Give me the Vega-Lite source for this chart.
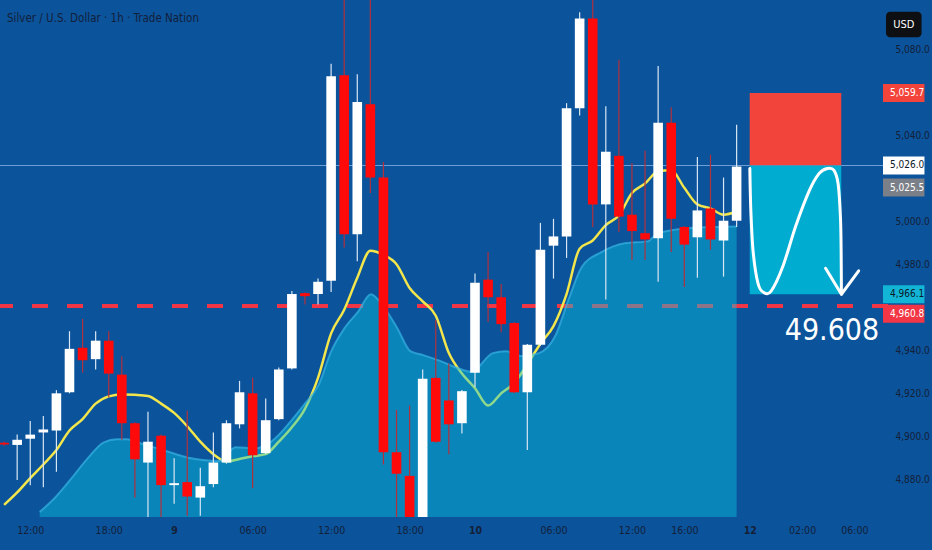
{
  "$schema": "https://vega.github.io/schema/vega-lite/v6.json",
  "width": 888,
  "height": 517,
  "autosize": {"type": "none"},
  "padding": {"left": 0, "top": 0, "right": 44, "bottom": 33},
  "background": "#0b539b",
  "config": {
    "view": {"stroke": null, "fill": "#0b539b"},
    "font": "DejaVu Sans Condensed, sans-serif",
    "axis": {"grid": false, "ticks": false, "domain": false, "labelColor": "#142038", "labelFontSize": 10}
  },
  "title": {
    "text": "Silver / U.S. Dollar · 1h · Trade Nation",
    "anchor": "start",
    "frame": "group",
    "offset": -24,
    "dx": 7,
    "fontSize": 11.5,
    "fontWeight": 500,
    "color": "#13203a"
  },
  "datasets": {
    "candles": [
      {"i": 0, "o": 4897.0, "h": 4897.6, "l": 4895.5, "c": 4896.2, "ma": 4868.1},
      {"i": 1, "o": 4896.0, "h": 4900.8, "l": 4879.7, "c": 4898.4, "ma": 4873.9},
      {"i": 2, "o": 4898.9, "h": 4907.1, "l": 4877.3, "c": 4900.8, "ma": 4880.6},
      {"i": 3, "o": 4901.8, "h": 4909.5, "l": 4876.3, "c": 4903.2, "ma": 4886.9},
      {"i": 4, "o": 4902.7, "h": 4921.5, "l": 4883.5, "c": 4920.0, "ma": 4893.6},
      {"i": 5, "o": 4920.5, "h": 4948.9, "l": 4920.0, "c": 4940.7, "ma": 4902.7},
      {"i": 6, "o": 4941.2, "h": 4954.6, "l": 4929.6, "c": 4935.4, "ma": 4908.0},
      {"i": 7, "o": 4935.9, "h": 4948.9, "l": 4931.1, "c": 4944.5, "ma": 4915.2},
      {"i": 8, "o": 4944.5, "h": 4948.9, "l": 4918.1, "c": 4929.2, "ma": 4918.6},
      {"i": 9, "o": 4928.7, "h": 4937.3, "l": 4898.4, "c": 4906.1, "ma": 4919.5},
      {"i": 10, "o": 4906.1, "h": 4906.6, "l": 4871.5, "c": 4889.3, "ma": 4919.3},
      {"i": 11, "o": 4887.8, "h": 4911.4, "l": 4862.0, "c": 4897.5, "ma": 4918.8},
      {"i": 12, "o": 4900.3, "h": 4900.8, "l": 4862.0, "c": 4877.3, "ma": 4915.2},
      {"i": 13, "o": 4877.3, "h": 4889.8, "l": 4868.6, "c": 4878.2, "ma": 4910.9},
      {"i": 14, "o": 4878.7, "h": 4911.9, "l": 4863.0, "c": 4872.0, "ma": 4904.7},
      {"i": 15, "o": 4871.5, "h": 4885.4, "l": 4863.0, "c": 4876.8, "ma": 4897.5},
      {"i": 16, "o": 4877.8, "h": 4901.8, "l": 4876.3, "c": 4887.8, "ma": 4891.7},
      {"i": 17, "o": 4887.8, "h": 4907.5, "l": 4887.3, "c": 4906.1, "ma": 4888.3},
      {"i": 18, "o": 4905.6, "h": 4925.8, "l": 4903.7, "c": 4920.5, "ma": 4889.5},
      {"i": 19, "o": 4920.0, "h": 4927.2, "l": 4875.8, "c": 4891.2, "ma": 4890.7},
      {"i": 20, "o": 4892.2, "h": 4917.6, "l": 4891.7, "c": 4907.5, "ma": 4891.7},
      {"i": 21, "o": 4908.0, "h": 4932.0, "l": 4907.5, "c": 4931.1, "ma": 4897.5},
      {"i": 22, "o": 4931.6, "h": 4967.6, "l": 4931.1, "c": 4966.2, "ma": 4904.2},
      {"i": 23, "o": 4966.6, "h": 4966.9, "l": 4961.3, "c": 4965.2, "ma": 4912.8},
      {"i": 24, "o": 4966.2, "h": 4973.4, "l": 4961.3, "c": 4971.9, "ma": 4927.2},
      {"i": 25, "o": 4972.4, "h": 5073.3, "l": 4967.1, "c": 5067.5, "ma": 4947.9},
      {"i": 26, "o": 5068.0, "h": 5110.0, "l": 4987.8, "c": 4994.0, "ma": 4958.9},
      {"i": 27, "o": 4994.0, "h": 5068.5, "l": 4981.5, "c": 5055.5, "ma": 4973.8},
      {"i": 28, "o": 5054.5, "h": 5110.0, "l": 5013.2, "c": 5020.4, "ma": 4986.3},
      {"i": 29, "o": 5020.4, "h": 5027.6, "l": 4886.9, "c": 4892.6, "ma": 4984.4},
      {"i": 30, "o": 4892.6, "h": 4912.3, "l": 4860.0, "c": 4882.6, "ma": 4980.1},
      {"i": 31, "o": 4881.6, "h": 4914.3, "l": 4850.0, "c": 4858.0, "ma": 4969.0},
      {"i": 32, "o": 4858.0, "h": 4931.1, "l": 4850.0, "c": 4926.8, "ma": 4962.8},
      {"i": 33, "o": 4927.2, "h": 4954.1, "l": 4897.0, "c": 4897.5, "ma": 4956.1},
      {"i": 34, "o": 4916.7, "h": 4933.9, "l": 4891.7, "c": 4905.6, "ma": 4938.8},
      {"i": 35, "o": 4906.1, "h": 4921.5, "l": 4901.3, "c": 4921.0, "ma": 4929.2},
      {"i": 36, "o": 4929.6, "h": 4975.8, "l": 4922.9, "c": 4971.4, "ma": 4922.4},
      {"i": 37, "o": 4972.9, "h": 4985.8, "l": 4953.2, "c": 4964.7, "ma": 4914.3},
      {"i": 38, "o": 4964.7, "h": 4970.9, "l": 4948.4, "c": 4952.2, "ma": 4920.0},
      {"i": 39, "o": 4952.7, "h": 4953.2, "l": 4920.0, "c": 4920.5, "ma": 4924.8},
      {"i": 40, "o": 4920.5, "h": 4943.0, "l": 4893.6, "c": 4942.6, "ma": 4933.5},
      {"i": 41, "o": 4942.6, "h": 4999.3, "l": 4942.1, "c": 4986.8, "ma": 4943.1},
      {"i": 42, "o": 4988.7, "h": 5001.2, "l": 4973.4, "c": 4993.0, "ma": 4951.3},
      {"i": 43, "o": 4993.0, "h": 5055.0, "l": 4983.0, "c": 5052.6, "ma": 4966.2},
      {"i": 44, "o": 5052.6, "h": 5097.3, "l": 5049.3, "c": 5094.4, "ma": 4987.3},
      {"i": 45, "o": 5094.4, "h": 5110.0, "l": 4997.4, "c": 5007.9, "ma": 4991.1},
      {"i": 46, "o": 5007.9, "h": 5053.6, "l": 4963.7, "c": 5032.4, "ma": 4998.3},
      {"i": 47, "o": 5030.5, "h": 5075.2, "l": 4995.0, "c": 5002.2, "ma": 5002.7},
      {"i": 48, "o": 5003.1, "h": 5027.2, "l": 4982.0, "c": 4995.5, "ma": 5013.2},
      {"i": 49, "o": 4994.5, "h": 5032.9, "l": 4982.0, "c": 4991.6, "ma": 5017.6},
      {"i": 50, "o": 4992.1, "h": 5072.3, "l": 4971.9, "c": 5045.9, "ma": 5023.3},
      {"i": 51, "o": 5045.9, "h": 5053.1, "l": 4985.8, "c": 5001.2, "ma": 5023.8},
      {"i": 52, "o": 4997.4, "h": 4997.9, "l": 4969.5, "c": 4989.2, "ma": 5015.6},
      {"i": 53, "o": 4992.6, "h": 5030.0, "l": 4973.8, "c": 5005.1, "ma": 5007.9},
      {"i": 54, "o": 5006.0, "h": 5031.0, "l": 4986.8, "c": 4991.6, "ma": 5006.0},
      {"i": 55, "o": 4991.1, "h": 5020.4, "l": 4974.3, "c": 5000.3, "ma": 5003.1},
      {"i": 56, "o": 5000.3, "h": 5044.9, "l": 4997.4, "c": 5025.5, "ma": 5004.6}
    ],
    "area": [
      {"t": 2.72, "v": 4864.8}, {"t": 3.85, "v": 4871.2}, {"t": 5.13, "v": 4880.3},
      {"t": 6.34, "v": 4889.4}, {"t": 7.63, "v": 4897.2}, {"t": 8.61, "v": 4898.6},
      {"t": 9.37, "v": 4898.6}, {"t": 10.65, "v": 4896.3}, {"t": 11.94, "v": 4894.0},
      {"t": 13.15, "v": 4891.7}, {"t": 14.2, "v": 4889.9}, {"t": 15.19, "v": 4889.0},
      {"t": 16.47, "v": 4888.5}, {"t": 17.7, "v": 4894.9}, {"t": 19.19, "v": 4894.4},
      {"t": 20.25, "v": 4896.7}, {"t": 21.01, "v": 4900.8}, {"t": 22.0, "v": 4907.7},
      {"t": 22.97, "v": 4915.0}, {"t": 24.03, "v": 4923.7}, {"t": 25.01, "v": 4939.6},
      {"t": 26.0, "v": 4950.1}, {"t": 27.05, "v": 4957.9}, {"t": 28.04, "v": 4966.1},
      {"t": 29.02, "v": 4960.2}, {"t": 30.08, "v": 4950.1}, {"t": 31.06, "v": 4939.6},
      {"t": 32.04, "v": 4937.8}, {"t": 33.33, "v": 4935.1}, {"t": 34.61, "v": 4931.9},
      {"t": 35.72, "v": 4930.0}, {"t": 37.36, "v": 4938.7}, {"t": 38.37, "v": 4939.6},
      {"t": 39.62, "v": 4937.3}, {"t": 40.89, "v": 4938.7}, {"t": 42.15, "v": 4946.9},
      {"t": 43.16, "v": 4963.8}, {"t": 44.16, "v": 4978.8}, {"t": 45.67, "v": 4985.7},
      {"t": 47.44, "v": 4989.8}, {"t": 49.2, "v": 4990.7}, {"t": 49.95, "v": 4994.4},
      {"t": 52.98, "v": 4997.1}, {"t": 56.0, "v": 4997.6}
    ],
    "zones": [
      {"zone": "stop", "t0": 57.0, "t1": 64.0, "top": 5059.7, "bottom": 5026.0},
      {"zone": "target", "t0": 57.0, "t1": 64.0, "top": 5026.0, "bottom": 4966.1}
    ],
    "sketch": [
      {"k": 1, "t": 57.01, "v": 5024.6}, {"k": 2, "t": 57.09, "v": 5004.6},
      {"k": 3, "t": 57.27, "v": 4985.4}, {"k": 4, "t": 57.64, "v": 4971.0},
      {"k": 5, "t": 58.07, "v": 4966.9}, {"k": 6, "t": 58.65, "v": 4967.7},
      {"k": 7, "t": 59.53, "v": 4979.0}, {"k": 8, "t": 60.54, "v": 4998.2},
      {"k": 9, "t": 61.55, "v": 5014.2}, {"k": 10, "t": 62.3, "v": 5022.2},
      {"k": 11, "t": 62.93, "v": 5024.6}, {"k": 12, "t": 63.43, "v": 5023.8},
      {"k": 13, "t": 63.76, "v": 5017.4}, {"k": 14, "t": 63.94, "v": 5001.4},
      {"k": 15, "t": 63.99, "v": 4985.4}, {"k": 16, "t": 64.01, "v": 4966.1}
    ],
    "arrow": [
      {"k": 1, "t": 62.8, "v": 4978.2},
      {"k": 2, "t": 64.01, "v": 4966.1},
      {"k": 3, "t": 65.33, "v": 4977.0}
    ],
    "tags": [
      {"kind": "stop", "v": 5059.7},
      {"kind": "entry", "v": 5026.0},
      {"kind": "last", "v": 5025.5},
      {"kind": "target", "v": 4966.1},
      {"kind": "line", "v": 4960.8}
    ]
  },
  "layer": [
    {
      "data": {"name": "candles"},
      "mark": {"type": "rule", "color": "#6e9fd4", "strokeWidth": 1, "opacity": 0.75},
      "encoding": {
        "y": {"datum": 5026.0, "type": "quantitative", "title": null,
              "scale": {"domain": [4864.8, 5100.66], "nice": false, "zero": false},
              "axis": {"orient": "right", "values": [4880, 4900, 4920, 4940, 4980, 5000, 5040, 5080],
                       "format": ",.1f", "labelPadding": 7, "labelAlign": "left"}}
      }
    },
    {
      "data": {"name": "candles"},
      "mark": {"type": "rule", "color": "#f23645", "strokeWidth": 3, "strokeDash": [16, 19]},
      "encoding": {
        "y": {"datum": 4960.8, "type": "quantitative", "title": null,
              "scale": {"domain": [4864.8, 5100.66], "nice": false, "zero": false}}
      }
    },
    {
      "data": {"name": "candles"},
      "mark": {"type": "line", "color": "#f3e64c", "strokeWidth": 2.5, "interpolate": "monotone", "clip": true},
      "encoding": {
        "x": {"field": "i", "type": "quantitative", "title": null,
              "scale": {"domain": [0.07, 67.19], "nice": false, "zero": false},
              "axis": {"values": [2, 8, 13, 19, 25, 31, 36, 42, 48, 52, 57, 61, 65], "labelPadding": 8,
                       "labelFlush": false, "labelFontSize": 10.5,
                       "labelFontWeight": {"condition": {"test": "datum.value == 13 || datum.value == 36 || datum.value == 57", "value": "bold"}, "value": "normal"},
                       "labelExpr": "datum.value == 13 ? '9' : datum.value == 36 ? '10' : datum.value == 57 ? '12' : (datum.value == 2 || datum.value == 25 || datum.value == 48) ? '12:00' : (datum.value == 8 || datum.value == 31) ? '18:00' : (datum.value == 19 || datum.value == 42 || datum.value == 65) ? '06:00' : datum.value == 52 ? '16:00' : datum.value == 61 ? '02:00' : ''"}},
        "y": {"field": "ma", "type": "quantitative", "title": null,
              "scale": {"domain": [4864.8, 5100.66], "nice": false, "zero": false}}
      }
    },
    {
      "data": {"name": "area"},
      "mark": {"type": "area", "color": "#09c8e2", "opacity": 0.43, "interpolate": "monotone", "clip": true},
      "encoding": {
        "x": {"field": "t", "type": "quantitative", "title": null,
              "scale": {"domain": [0.07, 67.19], "nice": false, "zero": false}},
        "y": {"field": "v", "type": "quantitative", "title": null,
              "scale": {"domain": [4864.8, 5100.66], "nice": false, "zero": false}},
        "y2": {"datum": 4850}
      }
    },
    {
      "data": {"name": "area"},
      "mark": {"type": "line", "color": "#36b4e2", "strokeWidth": 2, "opacity": 0.7, "interpolate": "monotone", "clip": true},
      "encoding": {
        "x": {"field": "t", "type": "quantitative", "title": null,
              "scale": {"domain": [0.07, 67.19], "nice": false, "zero": false}},
        "y": {"field": "v", "type": "quantitative", "title": null,
              "scale": {"domain": [4864.8, 5100.66], "nice": false, "zero": false}}
      }
    },
    {
      "data": {"name": "zones"},
      "mark": {"type": "rect"},
      "encoding": {
        "x": {"field": "t0", "type": "quantitative", "title": null,
              "scale": {"domain": [0.07, 67.19], "nice": false, "zero": false}},
        "x2": {"field": "t1"},
        "y": {"field": "top", "type": "quantitative", "title": null,
              "scale": {"domain": [4864.8, 5100.66], "nice": false, "zero": false}},
        "y2": {"field": "bottom"},
        "color": {"condition": {"test": "datum.zone == 'stop'", "value": "#f2443a"}, "value": "#00acd0"}
      }
    },
    {
      "data": {"name": "candles"},
      "mark": {"type": "rule", "strokeWidth": 1.2, "clip": true},
      "encoding": {
        "x": {"field": "i", "type": "quantitative", "title": null,
              "scale": {"domain": [0.07, 67.19], "nice": false, "zero": false}},
        "y": {"field": "l", "type": "quantitative", "title": null,
              "scale": {"domain": [4864.8, 5100.66], "nice": false, "zero": false}},
        "y2": {"field": "h"},
        "color": {"condition": {"test": "datum.c < datum.o", "value": "#b3303c"}, "value": "#d9e6f4"}
      }
    },
    {
      "data": {"name": "candles"},
      "mark": {"type": "bar", "width": 9.6, "clip": true},
      "encoding": {
        "x": {"field": "i", "type": "quantitative", "title": null,
              "scale": {"domain": [0.07, 67.19], "nice": false, "zero": false}},
        "y": {"field": "o", "type": "quantitative", "title": null,
              "scale": {"domain": [4864.8, 5100.66], "nice": false, "zero": false}},
        "y2": {"field": "c"},
        "color": {"condition": {"test": "datum.c < datum.o", "value": "#ff0a0a"}, "value": "#ffffff"}
      }
    },
    {
      "data": {"name": "sketch"},
      "mark": {"type": "line", "color": "#ffffff", "strokeWidth": 3, "interpolate": "cardinal", "strokeCap": "round"},
      "encoding": {
        "x": {"field": "t", "type": "quantitative", "title": null,
              "scale": {"domain": [0.07, 67.19], "nice": false, "zero": false}},
        "y": {"field": "v", "type": "quantitative", "title": null,
              "scale": {"domain": [4864.8, 5100.66], "nice": false, "zero": false}},
        "order": {"field": "k"}
      }
    },
    {
      "data": {"name": "arrow"},
      "mark": {"type": "line", "color": "#ffffff", "strokeWidth": 3, "strokeCap": "round", "strokeJoin": "round"},
      "encoding": {
        "x": {"field": "t", "type": "quantitative", "title": null,
              "scale": {"domain": [0.07, 67.19], "nice": false, "zero": false}},
        "y": {"field": "v", "type": "quantitative", "title": null,
              "scale": {"domain": [4864.8, 5100.66], "nice": false, "zero": false}},
        "order": {"field": "k"}
      }
    },
    {
      "data": {"values": [{"note": "49.608"}]},
      "mark": {"type": "text", "color": "#ffffff", "fontSize": 30, "align": "right", "baseline": "alphabetic"},
      "encoding": {
        "x": {"datum": 66.9, "type": "quantitative", "scale": {"domain": [0.07, 67.19], "nice": false, "zero": false}},
        "y": {"datum": 4944.6, "type": "quantitative", "scale": {"domain": [4864.8, 5100.66], "nice": false, "zero": false}},
        "text": {"field": "note"}
      }
    },
    {
      "data": {"name": "tags"},
      "transform": [{"filter": "datum.kind == 'stop' || datum.kind == 'entry' || datum.kind == 'target'"}],
      "layer": [
        {
          "mark": {"type": "bar", "size": 18},
          "encoding": {
            "x": {"datum": 67.19, "type": "quantitative", "scale": {"domain": [0.07, 67.19], "nice": false, "zero": false}},
            "x2": {"datum": 70.36},
            "y": {"field": "v", "type": "quantitative", "title": null, "scale": {"domain": [4864.8, 5100.66], "nice": false, "zero": false}},
            "color": {"condition": [
              {"test": "datum.kind == 'entry'", "value": "#ffffff"},
              {"test": "datum.kind == 'target'", "value": "#12b5d6"}
            ], "value": "#f2443a"}
          }
        },
        {
          "mark": {"type": "text", "fontSize": 10, "align": "left", "baseline": "middle"},
          "encoding": {
            "x": {"datum": 67.72, "type": "quantitative", "scale": {"domain": [0.07, 67.19], "nice": false, "zero": false}},
            "y": {"field": "v", "type": "quantitative", "title": null, "scale": {"domain": [4864.8, 5100.66], "nice": false, "zero": false}},
            "text": {"field": "v", "format": ",.1f"},
            "color": {"condition": {"test": "datum.kind == 'entry' || datum.kind == 'target'", "value": "#0d1726"}, "value": "#ffffff"}
          }
        }
      ]
    },
    {
      "data": {"name": "tags"},
      "transform": [{"filter": "datum.kind == 'last'"}],
      "layer": [
        {
          "mark": {"type": "bar", "size": 18, "yOffset": 21, "color": "#7b7f88"},
          "encoding": {
            "x": {"datum": 67.19, "type": "quantitative", "scale": {"domain": [0.07, 67.19], "nice": false, "zero": false}},
            "x2": {"datum": 70.36},
            "y": {"field": "v", "type": "quantitative", "title": null, "scale": {"domain": [4864.8, 5100.66], "nice": false, "zero": false}}
          }
        },
        {
          "mark": {"type": "text", "fontSize": 10, "align": "left", "baseline": "middle", "yOffset": 21, "color": "#ffffff"},
          "encoding": {
            "x": {"datum": 67.72, "type": "quantitative", "scale": {"domain": [0.07, 67.19], "nice": false, "zero": false}},
            "y": {"field": "v", "type": "quantitative", "title": null, "scale": {"domain": [4864.8, 5100.66], "nice": false, "zero": false}},
            "text": {"field": "v", "format": ",.1f"}
          }
        }
      ]
    },
    {
      "data": {"name": "tags"},
      "transform": [{"filter": "datum.kind == 'line'"}],
      "layer": [
        {
          "mark": {"type": "bar", "size": 18, "yOffset": 8, "color": "#f23645"},
          "encoding": {
            "x": {"datum": 67.19, "type": "quantitative", "scale": {"domain": [0.07, 67.19], "nice": false, "zero": false}},
            "x2": {"datum": 70.36},
            "y": {"field": "v", "type": "quantitative", "title": null, "scale": {"domain": [4864.8, 5100.66], "nice": false, "zero": false}}
          }
        },
        {
          "mark": {"type": "text", "fontSize": 10, "align": "left", "baseline": "middle", "yOffset": 8, "color": "#ffffff"},
          "encoding": {
            "x": {"datum": 67.72, "type": "quantitative", "scale": {"domain": [0.07, 67.19], "nice": false, "zero": false}},
            "y": {"field": "v", "type": "quantitative", "title": null, "scale": {"domain": [4864.8, 5100.66], "nice": false, "zero": false}},
            "text": {"field": "v", "format": ",.1f"}
          }
        }
      ]
    },
    {
      "data": {"values": [{"cur": "USD"}]},
      "layer": [
        {
          "mark": {"type": "rect", "color": "#0e0f12", "cornerRadius": 4},
          "encoding": {
            "x": {"datum": 67.42, "type": "quantitative", "scale": {"domain": [0.07, 67.19], "nice": false, "zero": false}},
            "x2": {"datum": 70.14},
            "y": {"datum": 5097.5, "type": "quantitative", "scale": {"domain": [4864.8, 5100.66], "nice": false, "zero": false}},
            "y2": {"datum": 5085.6}
          }
        },
        {
          "mark": {"type": "text", "color": "#ffffff", "fontSize": 11, "align": "center", "baseline": "middle"},
          "encoding": {
            "x": {"datum": 68.78, "type": "quantitative", "scale": {"domain": [0.07, 67.19], "nice": false, "zero": false}},
            "y": {"datum": 5091.5, "type": "quantitative", "scale": {"domain": [4864.8, 5100.66], "nice": false, "zero": false}},
            "text": {"field": "cur"}
          }
        }
      ]
    }
  ]
}
